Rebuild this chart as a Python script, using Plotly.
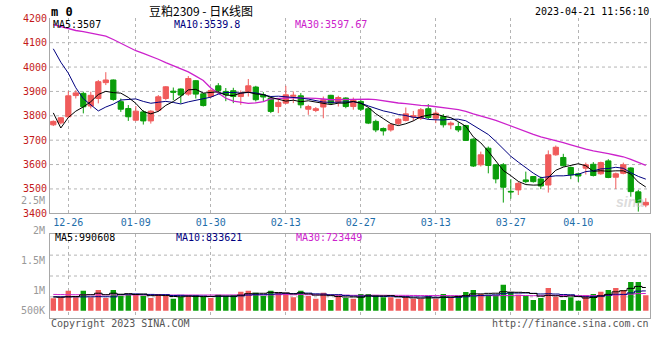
import plotly.graph_objects as go
import pandas as pd

# ---------------- data ----------------
dates = ["12-22", "12-23", "12-26", "12-27", "12-28", "12-29", "12-30",
         "01-03", "01-04", "01-05", "01-06", "01-09", "01-10", "01-11", "01-12", "01-13",
         "01-16", "01-17", "01-18", "01-19", "01-20", "01-30", "01-31",
         "02-01", "02-02", "02-03", "02-06", "02-07", "02-08", "02-09", "02-10",
         "02-13", "02-14", "02-15", "02-16", "02-17", "02-20", "02-21", "02-22", "02-23", "02-24",
         "02-27", "02-28",
         "03-01", "03-02", "03-03", "03-06", "03-07", "03-08", "03-09", "03-10",
         "03-13", "03-14", "03-15", "03-16", "03-17", "03-20", "03-21", "03-22", "03-23", "03-24",
         "03-27", "03-28", "03-29", "03-30", "03-31",
         "04-03", "04-04", "04-06", "04-07", "04-10", "04-11", "04-12", "04-13", "04-14",
         "04-17", "04-18", "04-19", "04-20", "04-21"]

opens = [3763, 3771, 3796, 3883, 3892, 3840, 3871, 3936, 3947, 3858,
         3830, 3782, 3816, 3779, 3823, 3871, 3901, 3910, 3889, 3944,
         3890, 3879, 3923, 3900, 3903, 3879, 3896, 3918, 3886, 3873,
         3838, 3852, 3880, 3882, 3827, 3822, 3836, 3884, 3856, 3873,
         3838, 3859, 3829, 3777, 3748, 3742, 3768, 3781, 3795, 3790,
         3829, 3790, 3797, 3763, 3756, 3760, 3704, 3599, 3667, 3599,
         3599, 3490, 3496, 3537, 3551, 3541, 3516, 3640, 3629, 3588,
         3562, 3585, 3601, 3562, 3615, 3548, 3564, 3586, 3488, 3434]
highs = [3781, 3795, 3901, 3905, 3899, 3899, 3947, 3979, 3949, 3871,
         3844, 3840, 3823, 3823, 3885, 3922, 3916, 3912, 3963, 3947,
         3893, 3910, 3934, 3914, 3915, 3904, 3951, 3923, 3897, 3879,
         3866, 3923, 3900, 3893, 3845, 3836, 3879, 3886, 3882, 3876,
         3875, 3866, 3835, 3784, 3752, 3770, 3790, 3834, 3820, 3832,
         3848, 3821, 3807, 3777, 3774, 3763, 3708, 3653, 3674, 3601,
         3606, 3540, 3530, 3571, 3553, 3551, 3658, 3678, 3644, 3592,
         3567, 3608, 3610, 3612, 3622, 3567, 3608, 3589, 3496, 3462]
lows = [3758, 3765, 3793, 3871, 3810, 3830, 3851, 3926, 3862, 3816,
        3779, 3778, 3764, 3768, 3816, 3864, 3864, 3851, 3882, 3871,
        3838, 3873, 3890, 3860, 3852, 3845, 3879, 3859, 3859, 3811,
        3811, 3849, 3852, 3831, 3804, 3815, 3790, 3845, 3838, 3831,
        3825, 3820, 3766, 3733, 3719, 3735, 3762, 3777, 3779, 3783,
        3786, 3770, 3752, 3745, 3733, 3697, 3590, 3592, 3564, 3523,
        3444, 3460, 3475, 3523, 3526, 3499, 3485, 3636, 3592, 3540,
        3529, 3559, 3551, 3558, 3544, 3500, 3560, 3468, 3407, 3425]
closes = [3777, 3792, 3882, 3894, 3837, 3884, 3940, 3947, 3867, 3827,
          3796, 3819, 3779, 3819, 3878, 3919, 3897, 3885, 3953, 3889,
          3842, 3904, 3904, 3886, 3879, 3893, 3923, 3866, 3877, 3818,
          3855, 3886, 3884, 3845, 3838, 3829, 3866, 3852, 3875, 3838,
          3865, 3827, 3770, 3742, 3738, 3763, 3786, 3808, 3800, 3825,
          3793, 3811, 3763, 3770, 3742, 3699, 3594, 3640, 3596, 3541,
          3507, 3488, 3523, 3530, 3530, 3512, 3640, 3671, 3595, 3558,
          3553, 3599, 3555, 3608, 3547, 3562, 3599, 3489, 3444, 3445]
volumes = [532000, 575000, 862000, 575000, 862000, 575000, 891000, 546000, 891000, 647000,
           690000, 718000, 647000, 546000, 718000, 632000, 517000, 603000, 661000, 661000,
           603000, 546000, 690000, 632000, 661000, 819000, 862000, 776000, 632000, 862000,
           776000, 776000, 575000, 862000, 632000, 517000, 776000, 460000, 661000, 546000,
           517000, 718000, 718000, 661000, 575000, 575000, 517000, 575000, 517000, 517000,
           632000, 517000, 718000, 575000, 632000, 805000, 891000, 718000, 690000, 661000,
           1121000, 805000, 690000, 632000, 460000, 546000, 977000, 603000, 460000, 575000,
           431000, 661000, 718000, 819000, 891000, 977000, 891000, 1236000, 1236000, 661000]

# moving-average values at the start of the window (history before 12-22 is off-chart)
ma5_head = [3812, 3750, 3793, 3819]
ma10_head = [4075, 4020, 3975, 3915, 3870, 3843, 3820, 3836, 3848]
ma30_head = [4174, 4165, 4156, 4150, 4145, 4140, 4134, 4127, 4113, 4098,
             4083, 4067, 4056, 4045, 4032, 4018, 4005, 3993, 3980, 3963,
             3945, 3914, 3892, 3872, 3860, 3854, 3851, 3853, 3858]
vma5_head = [590000, 580000, 600000, 610000]
vma10_head = [600000, 600000, 598000, 596000, 596000, 600000, 605000, 602000, 598000]
vma30_head = [700000, 695000, 690000, 688000, 686000, 684000, 684000, 682000, 682000, 680000,
              680000, 680000, 678000, 678000, 678000, 676000, 676000, 676000, 676000, 676000,
              676000, 676000, 678000, 678000, 680000, 680000, 680000, 680000, 681000]

price_ticks = [3400, 3500, 3600, 3700, 3800, 3900, 4000, 4100, 4200]
date_ticks = ["12-26", "01-09", "01-30", "02-13", "02-27", "03-13", "03-27", "04-10"]
vol_tick_labels = ["2.5M", "2M", "1.5M", "1M", "500K"]

title_text = "豆粕2309 - 日K线图"
stamp_text = "2023-04-21 11:56:10"
price_ma_labels = ["MA5:3507", "MA10:3539.8", "MA30:3597.67"]
vol_ma_labels = ["MA5:990608", "MA10:833621", "MA30:723449"]

# ---------------- styles / layout constants ----------------
W, H = 660, 360
RED = "#f05b5b"
GREEN = "#0a9e0a"
MA_COLORS = ["#000000", "#000080", "#cc22cc"]
GRID = "#b4b4b4"
BORDER = "#a8a8a8"
MONO = "DejaVu Sans Mono"
vol_label_py = [200.7, 230.7, 260.7, 290.7, 310.7]


def px(x):
    return x / W


def py(y):
    return 1 - y / H


def ma_series(values, n, head):
    s = pd.Series(values, dtype=float).rolling(n).mean().tolist()
    return head + s[len(head):]


ma5 = ma_series(closes, 5, ma5_head)
ma10 = ma_series(closes, 10, ma10_head)
ma30 = ma_series(closes, 30, ma30_head)
vma5 = ma_series(volumes, 5, vma5_head)
vma10 = ma_series(volumes, 10, vma10_head)
vma30 = ma_series(volumes, 30, vma30_head)

bar_colors = [RED if c >= o else GREEN for o, c in zip(opens, closes)]

fig = go.Figure()
fig.add_trace(go.Candlestick(
    x=dates, open=opens, high=highs, low=lows, close=closes,
    increasing=dict(line=dict(color=RED, width=1), fillcolor=RED),
    decreasing=dict(line=dict(color=GREEN, width=1), fillcolor=GREEN),
    whiskerwidth=0, xaxis="x", yaxis="y", hoverinfo="skip", showlegend=False))
for vals, col, w in zip([ma30, ma10, ma5], MA_COLORS[::-1], [1.3, 1, 1]):
    fig.add_trace(go.Scatter(x=dates, y=vals, mode="lines", line=dict(color=col, width=w),
                             xaxis="x", yaxis="y", hoverinfo="skip", showlegend=False))

fig.add_trace(go.Bar(x=dates, y=volumes, marker=dict(color=bar_colors, line=dict(width=0)),
                     width=0.72, xaxis="x2", yaxis="y2", hoverinfo="skip", showlegend=False))
for vals, col in zip([vma30, vma10, vma5], MA_COLORS[::-1]):
    fig.add_trace(go.Scatter(x=dates, y=vals, mode="lines",
                             line=dict(color=col, width=1, shape="hvh"),
                             xaxis="x2", yaxis="y2", hoverinfo="skip", showlegend=False))

n = len(dates)
xr = [-0.44, n - 1 + 0.56]
xdom = [px(50), px(650)]
common_x = dict(type="category", range=xr, domain=xdom, tickvals=date_ticks, ticktext=date_ticks,
                showgrid=True, gridcolor=GRID, griddash="dot", gridwidth=1,
                showline=True, linecolor=BORDER, linewidth=1, ticks="", automargin=False,
                rangeslider=dict(visible=False), fixedrange=True)

fig.update_layout(
    template="none", autosize=False,
    width=W, height=H, margin=dict(l=0, r=0, t=0, b=0, pad=0, autoexpand=False),
    paper_bgcolor="white", plot_bgcolor="white",
    boxgap=0.3, boxgroupgap=0,
    xaxis=dict(common_x, anchor="y", showticklabels=True,
               tickfont=dict(family=MONO, size=10, color="#1e6eaa")),
    yaxis=dict(domain=[py(213.3), py(18.3)], range=[3400, 4200],
               tickvals=price_ticks, ticktext=[str(v) for v in price_ticks],
               tickfont=dict(family=MONO, size=10, color="#c41a1a"),
               showgrid=False, zeroline=False, showline=True, mirror=True, automargin=False,
               linecolor=BORDER, linewidth=1, ticks="", fixedrange=True),
    xaxis2=dict(common_x, anchor="y2", matches="x", showticklabels=False, mirror=True),
    yaxis2=dict(domain=[py(317.7), py(234.3)], range=[-302000, 3293000],
                showticklabels=False, showgrid=False, zeroline=False, automargin=False,
                showline=True, mirror=True, linecolor=BORDER, linewidth=1, fixedrange=True),
    showlegend=False,
)

shapes = []
for v in price_ticks[1:-1]:
    shapes.append(dict(type="line", xref="x domain", yref="y", x0=0, x1=1, y0=v, y1=v,
                       line=dict(color=GRID, width=1, dash="dot"), layer="below"))
for f in [0.25, 0.5, 0.75]:
    shapes.append(dict(type="line", xref="x2 domain", yref="y2 domain", x0=0, x1=1, y0=f, y1=f,
                       line=dict(color=GRID, width=1, dash="dot"), layer="below"))
fig.update_layout(shapes=shapes)

ann = []


def text(x, y, s, color="#000", size=10, anchor="left", family=MONO, bold=False):
    if bold:
        s = "<b>" + s + "</b>"
    ann.append(dict(x=px(x), y=py(y), xref="paper", yref="paper", text=s, showarrow=False,
                    xanchor=anchor, yanchor="middle", borderpad=0,
                    font=dict(family=family, size=size, color=color)))


text(50, 12, "m 0", "#000", 12, bold=True)
text(201, 10.5, title_text, "#000", 12, "center", "Noto Sans CJK SC")
text(650, 12, stamp_text, "#000", 10, "right")
for s, x, c in zip(price_ma_labels, [52, 173, 294], MA_COLORS):
    text(x, 24.5, s, c, 10)
for s, x, c in zip(vol_ma_labels, [54, 175, 295], MA_COLORS):
    text(x, 237.5, s, c, 10)
for s, y in zip(vol_tick_labels, vol_label_py):
    text(46, y, s, "#999999", 10, "right")
text(50, 323.5, "Copyright 2023 SINA.COM", "#555555", 10)
text(650, 323.5, "http://finance.sina.com.cn", "#555555", 10, "right")
text(630, 202, "<i><b>sina</b></i>", "rgba(190,190,190,0.55)", 14, "center", "Liberation Sans")
fig.update_layout(annotations=ann)

fig.write_html("out.html", config={"displayModeBar": False, "staticPlot": True},
               post_script="document.body.style.margin='0';document.body.style.overflow='hidden';")
